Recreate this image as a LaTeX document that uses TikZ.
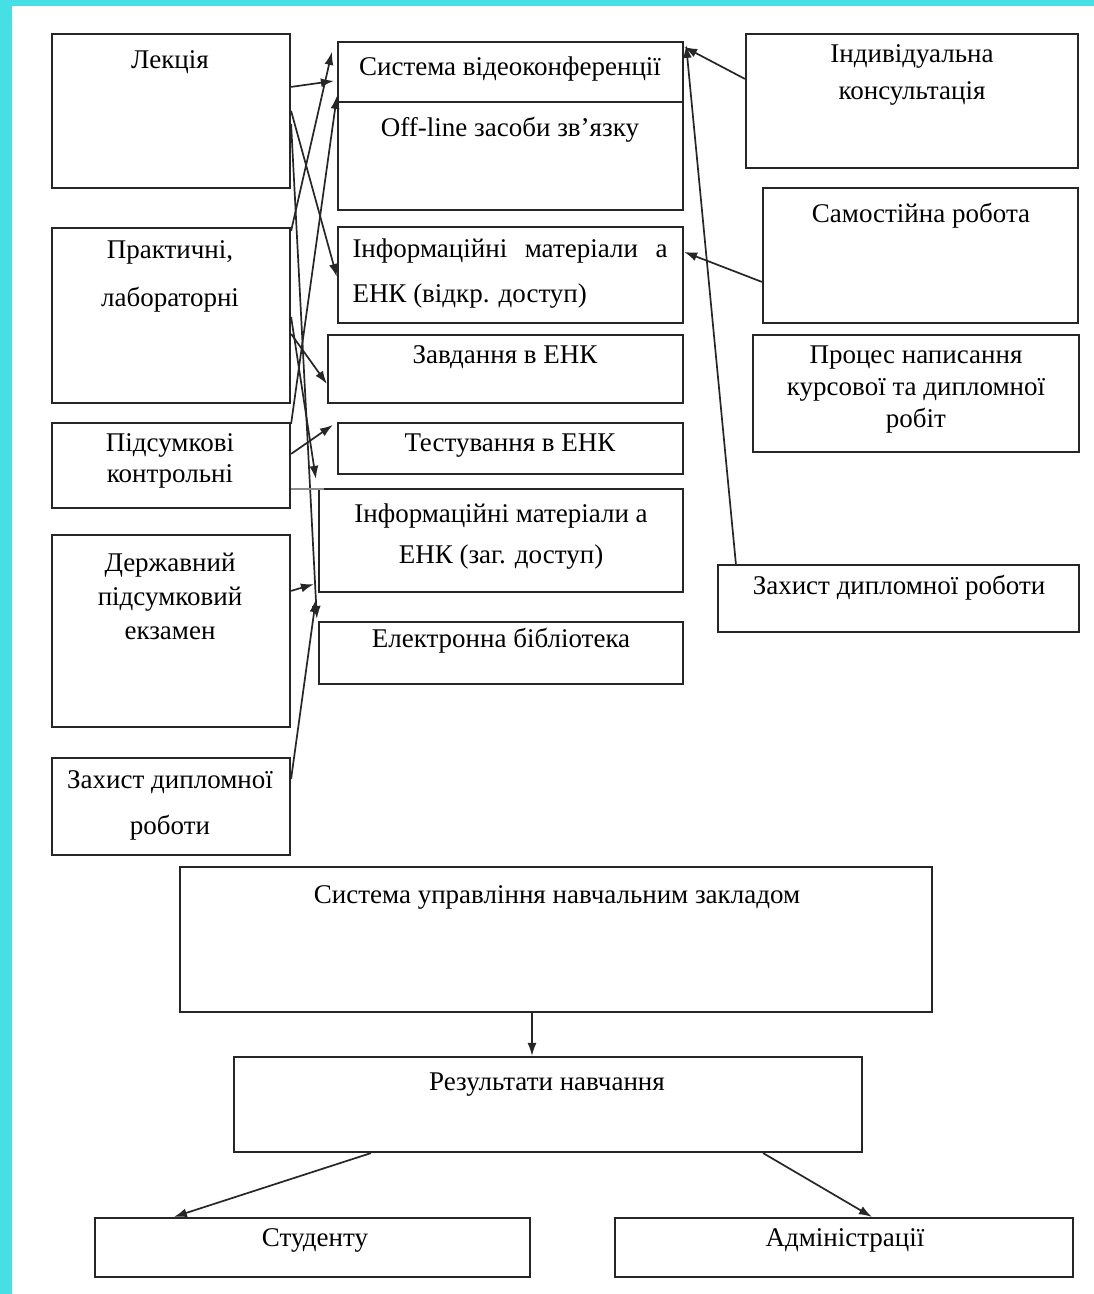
\documentclass[tikz,border=0pt]{standalone}
\usepackage{fontspec}
\setmainfont{Liberation Serif}
\usetikzlibrary{arrows.meta,fit}
\definecolor{bordercyan}{RGB}{70,224,228}
\newcommand\fsz[1]{\fontsize{27}{#1}\selectfont}
\begin{document}
\begin{tikzpicture}[x=1pt,y=-1pt,
  box/.style={draw=black!85, line width=2.2pt, inner sep=0pt},
  lbl/.style={inner sep=0pt, align=center, text=black, font=\fsz{32}},
  arr/.style={draw=black!85, line width=1.7pt, -{Latex[length=13pt,width=9pt]}},
  faint/.style={draw=black!45, line width=2pt}
]
\useasboundingbox (0,0) rectangle (1094,1294);
\fill[bordercyan] (0,0) rectangle (1094,1294);
\fill[white] (12,6) rectangle (1094,1294);

% left column
\node[box, fit={(52,34)(290,188)}] (lec) {};
\node[box, fit={(52,228)(290,403)}] (prac) {};
\node[box, fit={(52,423)(290,508)}] (sub) {};
\node[box, fit={(52,535)(290,727)}] (derzh) {};
\node[box, fit={(52,758)(290,855)}] (zahL) {};
% middle column
\node[box, fit={(338,42)(683,102)}] (vid) {};
\node[box, fit={(338,102)(683,210)}] (off) {};
\node[box, fit={(338,227)(683,323)}] (infoO) {};
\node[box, fit={(328,335)(683,403)}] (zavd) {};
\node[box, fit={(338,423)(683,474)}] (test) {};
\node[box, fit={(319,489)(683,592)}] (infoG) {};
\node[box, fit={(319,622)(683,684)}] (lib) {};
% right column
\node[box, fit={(746,34)(1078,168)}] (indiv) {};
\node[box, fit={(763,188)(1078,323)}] (samost) {};
\node[box, fit={(753,335)(1079,452)}] (proc) {};
\node[box, fit={(718,565)(1079,632)}] (zahR) {};
% bottom
\node[box, fit={(180,867)(932,1012)}] (sys) {};
\node[box, fit={(234,1057)(862,1152)}] (res) {};
\node[box, fit={(95,1218)(530,1277)}] (stud) {};
\node[box, fit={(615,1218)(1073,1277)}] (adm) {};

% labels
\node[lbl] (t-lec) at (170,62) {Лекція};
\node[lbl, font=\fsz{48}] (t-prac) at (170,276) {Практичні,\\лабораторні};
\node[lbl, font=\fsz{31}] (t-sub) at (170,461) {Підсумкові\\контрольні};
\node[lbl, font=\fsz{34}] (t-derzh) at (170,596) {Державний\\підсумковий\\екзамен};
\node[lbl, font=\fsz{46}] (t-zahL) at (170,805) {Захист дипломної\\роботи};
\node[lbl] (t-vid) at (510,69) {Система відеоконференції};
\node[lbl] (t-off) at (510,130) {Off-line засоби зв’язку};
\node[lbl, align=left, font=\fsz{45}] (t-infoO) at (510,274) {\hbox to 315pt{Інформаційні\hfill матеріали\hfill а}\\ЕНК (відкр. доступ)};
\node[lbl] (t-zavd) at (505,357) {Завдання в ЕНК};
\node[lbl] (t-test) at (510,446) {Тестування в ЕНК};
\node[lbl, font=\fsz{41}] (t-infoG) at (501,537) {Інформаційні матеріали а\\ЕНК (заг. доступ)};
\node[lbl] (t-lib) at (501,641) {Електронна бібліотека};
\node[lbl, font=\fsz{37}] (t-indiv) at (912,75) {Індивідуальна\\консультація};
\node[lbl] (t-samost) at (921,216) {Самостійна робота};
\node[lbl, font=\fsz{32}] (t-proc) at (916,390) {Процес написання\\курсової та дипломної\\робіт};
\node[lbl] (t-zahR) at (899,588) {Захист дипломної роботи};
\node[lbl] (t-sys) at (557,897) {Система управління навчальним закладом};
\node[lbl] (t-res) at (547,1085) {Результати навчання};
\node[lbl] (t-stud) at (315,1240) {Студенту};
\node[lbl] (t-adm) at (845,1240) {Адміністрації};

% connectors
\draw[arr] ([yshift=-54pt]lec.north east) -- ([xshift=-3pt,yshift=-40pt]vid.north west);
\draw[arr] ([yshift=-78pt]lec.north east) -- ([yshift=-51pt]infoO.north west);
\draw[arr] ([yshift=-91pt]lec.north east) -- ([xshift=-1pt,yshift=2pt]lib.north west);
\draw[arr] ([yshift=-4pt]prac.north east) -- ([xshift=-5pt,yshift=-11pt]vid.north west);
\draw[arr] ([yshift=-90pt]prac.north east) -- ([xshift=-2pt,yshift=9pt]infoG.north west);
\draw[arr] ([yshift=-107pt]prac.north east) -- ([yshift=-50pt]zavd.north west);
\draw[arr] ([yshift=-2pt]sub.north east) -- ([yshift=-55pt]vid.north west);
\draw[arr] ([yshift=-32pt]sub.north east) -- ([xshift=-4pt,yshift=-3pt]test.north west);
\draw[faint] ([yshift=-67pt]sub.north east) -- ([xshift=6pt,yshift=-1pt]infoG.north west);
\draw[arr] ([yshift=-57pt]derzh.north east) -- ([xshift=-4pt,yshift=9pt]infoG.south west);
\draw[arr] ([yshift=-22pt]zahL.north east) -- ([xshift=-2pt,yshift=-6pt]infoG.south west);
\draw[arr] ([yshift=-46pt]indiv.north west) -- ([yshift=-6pt]vid.north east);
\draw[arr] ([xshift=19pt]zahR.north west) -- ([xshift=2pt,yshift=-4pt]vid.north east);
\draw[arr] ([yshift=-95pt]samost.north west) -- ([yshift=-26pt]infoO.north east);
\coordinate (sysout) at ([xshift=-24pt]sys.south);
\draw[arr] (sysout) -- (sysout |- res.north);
\draw[arr] ([xshift=138pt]res.south west) -- ([xshift=80pt]stud.north west);
\draw[arr] ([xshift=-100pt]res.south east) -- ([xshift=258pt]adm.north west);
\end{tikzpicture}
\end{document}
